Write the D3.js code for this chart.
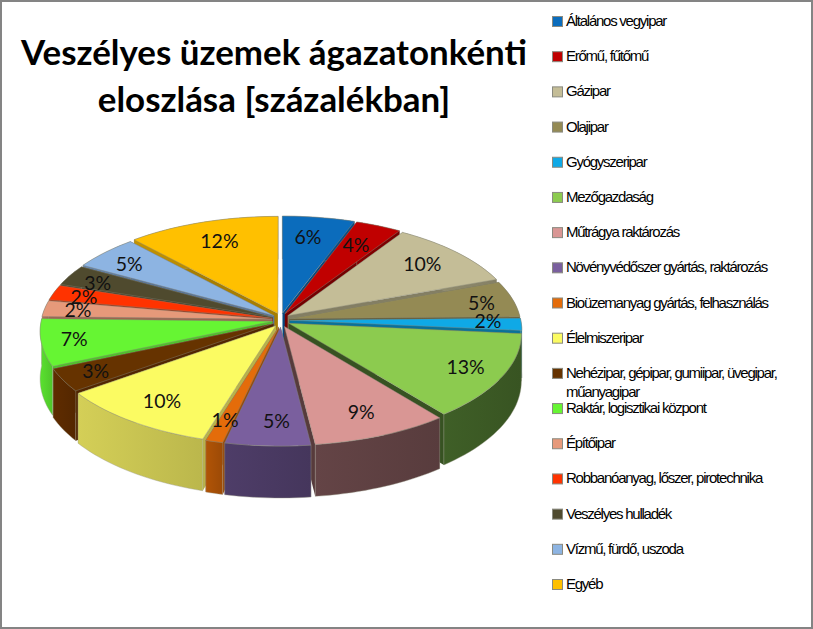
<!DOCTYPE html>
<html lang="hu">
<head>
<meta charset="utf-8">
<title>Veszélyes üzemek</title>
<script src="https://d3js.org/d3.v7.min.js"></script>
<style>
    html, body { margin: 0; padding: 0; background: #fff; }
    svg { display: block; }
</style>
</head>
<body>
<svg id="mainsvg" width="813" height="629"></svg>
<script>
    // values are estimates: the labels give the rounded share, the slice widths give the rest
    const categories = ["Általános vegyipar", "Erőmű, fűtőmű", "Gázipar", "Olajipar", "Gyógyszeripar",
        "Mezőgazdaság", "Műtrágya raktározás", "Növényvédőszer gyártás, raktározás",
        "Bioüzemanyag gyártás, felhasználás", "Élelmiszeripar",
        "Nehézipar, gépipar, gumiipar, üvegipar,\nműanyagipar", "Raktár, logisztikai központ", "Építőipar",
        "Robbanóanyag, lőszer, pirotechnika", "Veszélyes hulladék", "Vízmű, fürdő, uszoda", "Egyéb"];
    const shares = [5.5, 3.5, 10.2, 5.4, 1.8, 12.8, 8.7, 5.4, 1.1, 10.25, 3.45, 7.0, 2.4, 2.3, 3.1, 5.1, 11.6];
    const topColors = ["#0b6cbc", "#c00000", "#c4bd97", "#948a54", "#0fa9e6", "#8ccb4f", "#d99694", "#7a5f9e",
        "#e46c0a", "#fbfb62", "#663300", "#66f533", "#e6997a", "#ff3300", "#4f4a2e", "#8db4e2", "#ffc000"];
    const sideColors = ["#08508c", "#800000", "#8f8a6c", "#6b633c", "#0a7ba8", "#3c5a25", "#5f4042", "#4a3a63",
        "#a85006", "#c9c452", "#5a2a00", "#55d52d", "#a86e57", "#b02400", "#3a3620", "#5f7fa8", "#b88a00"];
    const titleLines = ["Veszélyes üzemek ágazatonkénti", "eloszlása [százalékban]"];
    // Excel moved the percent labels by hand-ish rules, so nudge them off the radial spot
    const labelNudge = [[-4, 2], [-5, 3], [-2, 0], [13, 0], [13, -2], [8, 1], [0, 0], [6, 1], [-3, 3],
        [0, 0], [-11, 3], [-14, 1], [-12, -1], [-13, 0], [-12, 0], [-8, 0], [3, 2]];

    const svg = d3.select('#mainsvg');
    const width = +svg.attr('width');
    const height = +svg.attr('height');

    const cx = 281, cy = 320, rx = 231, ry = 107;
    const depth = 47, persp = 0.09;
    const explodeX = 0.038, explodeY = 0.065;

    svg.append('rect').attr('width', width).attr('height', height).attr('fill', '#fff');

    const arcs = d3.pie().sort(null).value(d => d)(shares);

    // t runs clockwise from the back of the pie
    const project = function (d, t, r, drop) {
        const mid = (d.startAngle + d.endAngle) / 2;
        const x = r * Math.sin(t) + explodeX * Math.sin(mid);
        const z = -(r * Math.cos(t) + explodeY * Math.cos(mid));
        const s = 1 / (1 - persp * z);
        return [cx + rx * x * s, cy + ry * z * s + drop * s];
    };

    const rimAngles = function (d) {
        const n = Math.max(4, Math.ceil((d.endAngle - d.startAngle) / 0.03));
        return d3.range(n + 1).map(i => d.startAngle + (d.endAngle - d.startAngle) * i / n);
    };

    const line = d3.line().curve(d3.curveLinear);
    const defs = svg.append('defs');

    const order = arcs.slice().sort((a, b) =>
        Math.cos((b.startAngle + b.endAngle) / 2) - Math.cos((a.startAngle + a.endAngle) / 2));

    const pieGroup = svg.append('g').attr('id', 'pie');

    order.forEach(function (d) {
        const g = pieGroup.append('g');
        const ts = rimAngles(d);
        const side = sideColors[d.index];

        const xs = ts.map(t => project(d, t, 1, 0)[0]);
        const grad = defs.append('linearGradient')
            .attr('id', 'side' + d.index)
            .attr('gradientUnits', 'userSpaceOnUse')
            .attr('x1', d3.min(xs)).attr('x2', d3.max(xs)).attr('y1', 0).attr('y2', 0);
        grad.append('stop').attr('offset', 0).attr('stop-color', d3.color(side).brighter(0.15));
        grad.append('stop').attr('offset', 1).attr('stop-color', d3.color(side).darker(0.2));

        // cut faces
        [d.startAngle, d.endAngle].forEach(function (t) {
            g.append('path')
                .attr('d', line([project(d, t, 0, 0), project(d, t, 1, 0), project(d, t, 1, depth), project(d, t, 0, depth)]) + 'Z')
                .attr('fill', d3.color(side).darker(0.25));
        });

        // outer wall
        const wall = ts.map(t => project(d, t, 1, 0))
            .concat(ts.slice().reverse().map(t => project(d, t, 1, depth)));
        g.append('path')
            .attr('d', line(wall) + 'Z')
            .attr('fill', 'url(#side' + d.index + ')')
            .attr('stroke', '#9a9a8a')
            .attr('stroke-opacity', 0.5)
            .attr('stroke-width', 0.8);

        // top
        const top = [project(d, 0, 0, 0)].concat(ts.map(t => project(d, t, 1, 0)));
        g.append('path')
            .attr('d', line(top) + 'Z')
            .attr('fill', topColors[d.index])
            .attr('stroke', '#8a8a7a')
            .attr('stroke-opacity', 0.55)
            .attr('stroke-width', 0.8);
    });

    // percent labels
    svg.append('g').selectAll('text')
        .data(arcs)
        .enter().append('text')
        .attr('x', d => project(d, (d.startAngle + d.endAngle) / 2, 0.8, 0)[0] + labelNudge[d.index][0])
        .attr('y', d => project(d, (d.startAngle + d.endAngle) / 2, 0.8, 0)[1] + labelNudge[d.index][1])
        .attr('dy', '0.35em')
        .attr('text-anchor', 'middle')
        .attr('font-family', 'Lato, "Open Sans", sans-serif')
        .attr('font-size', 19.5)
        .attr('fill', '#111')
        .text(d => Math.round(d.value) + '%');

    // title
    svg.append('g').selectAll('text')
        .data(titleLines)
        .enter().append('text')
        .attr('x', 274)
        .attr('y', (d, i) => 65 + i * 47)
        .attr('text-anchor', 'middle')
        .attr('font-family', 'Lato, "Open Sans", sans-serif')
        .attr('font-weight', 'bold')
        .attr('font-size', 34.9)
        .attr('fill', '#000')
        .text(d => d);

    // legend
    const legendY = d3.scalePoint().domain(categories).range([21, 584]);
    const legend = svg.selectAll('.legend')
        .data(categories)
        .enter().append('g')
        .attr('class', 'legend')
        .attr('transform', d => `translate(552, ${legendY(d)})`);
    legend.append('rect')
        .attr('x', 0.5).attr('y', -4.5)
        .attr('width', 10).attr('height', 10)
        .attr('fill', (d, i) => topColors[i])
        .attr('stroke', '#8a8a80');
    legend.append('text')
        .attr('font-family', '"Liberation Sans", Arial, sans-serif')
        .attr('font-size', 15)
        .attr('letter-spacing', -1.25)
        .attr('fill', '#000')
        .selectAll('tspan')
        .data(d => d.split('\n'))
        .enter().append('tspan')
        .attr('x', 14)
        .attr('y', (d, i) => 5 + i * 19)
        .text(d => d);

    // frame
    svg.append('rect')
        .attr('x', 1).attr('y', 1)
        .attr('width', width - 2).attr('height', height - 2)
        .attr('fill', 'none')
        .attr('stroke', '#848484')
        .attr('stroke-width', 2);
</script>
</body>
</html>
